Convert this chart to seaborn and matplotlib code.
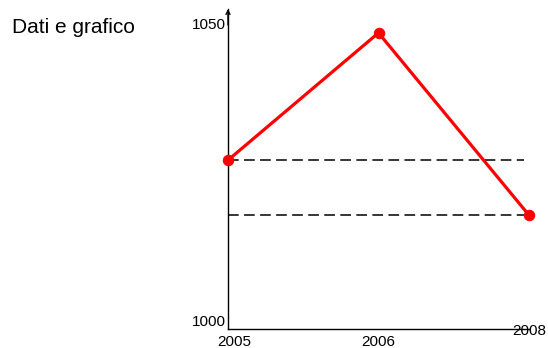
import matplotlib
matplotlib.use("Agg")
import matplotlib.pyplot as plt
import matplotlib.transforms as mtransforms
import seaborn as sns
import pandas as pd

years = ["2005", "2006", "2008"]
values = [1027.6, 1048.4, 1018.6]
y_ticks = [1000, 1050]
title_text = "Dati e grafico"

sns.set_style("white")
plt.rcParams["font.family"] = ["Liberation Sans", "DejaVu Sans"]
plt.rcParams["text.color"] = "black"

df = pd.DataFrame({"anno": years, "valore": values})

fig = plt.figure(figsize=(5.48, 3.48), dpi=100)
W, H = 548, 348
ax = fig.add_axes([228 / W, 1 - 329 / H, (529 - 228) / W, (329 - 9) / H])

sns.lineplot(data=df, x="anno", y="valore", ax=ax, color="#ff0000",
             linewidth=2.3, marker="o", markersize=7.5,
             markeredgecolor="#ff0000", sort=False, clip_on=False, zorder=3)

# dashed reference lines at the first and last values
for v in (values[0], values[-1]):
    ax.hlines(v, 0, 1.97, colors="black", linestyles=(0, (7, 3.5)),
              linewidth=1.1, zorder=2)

ax.set_xlim(0, 2.0)
ax.set_ylim(1000, 1052.3)
ax.set_yticks(y_ticks)
ax.set_yticklabels([str(t) for t in y_ticks])
ax.set_xlabel("")
ax.set_ylabel("")
ax.tick_params(axis="both", length=0, labelsize=11, colors="black")
ax.tick_params(axis="x", pad=4)
ax.tick_params(axis="y", pad=1.5)

for side in ("top", "right"):
    ax.spines[side].set_visible(False)
for side in ("left", "bottom"):
    ax.spines[side].set_color("black")
    ax.spines[side].set_linewidth(1.0)

# the lowest y label sits on the axis line
ylabels = ax.get_yticklabels()
ylabels[0].set_va("bottom")

# first year label nudged right of the axis, last year label raised
xlabels = ax.get_xticklabels()
xlabels[0].set_transform(xlabels[0].get_transform() +
                         mtransforms.ScaledTranslation(6 / 100, 0, fig.dpi_scale_trans))
xlabels[-1].set_transform(xlabels[-1].get_transform() +
                          mtransforms.ScaledTranslation(0, 11 / 100, fig.dpi_scale_trans))

# arrow head on top of the value axis
ax.annotate("", xy=(0, 1.0), xytext=(0, 0.95), xycoords="axes fraction",
            arrowprops=dict(arrowstyle="->", color="black", lw=1.0,
                            shrinkA=0, shrinkB=0, mutation_scale=7))

fig.text(12 / W, 1 - 33 / H, title_text, fontsize=15, va="baseline", ha="left")

fig.savefig("out.png", dpi=100)
